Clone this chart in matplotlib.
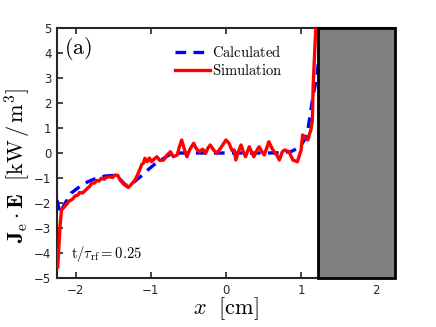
import matplotlib
matplotlib.use("Agg")
import matplotlib.pyplot as plt
from matplotlib.patches import Rectangle

plt.rcParams['mathtext.fontset'] = 'cm'

# Simulation (red)
sim_x = [-2.24, -2.21, -2.19, -2.15, -2.12, -2.09, -2.06, -2.03, -2.01, -1.97, -1.95, -1.91,
         -1.88, -1.84, -1.81, -1.79, -1.75, -1.72, -1.69,
         -1.66, -1.62, -1.60, -1.55, -1.51, -1.48, -1.44, -1.41, -1.36, -1.30, -1.26, -1.21,
         -1.16, -1.12,
         -1.10, -1.08, -1.05, -1.02, -0.99, -0.96, -0.92, -0.88, -0.83, -0.79, -0.74, -0.70,
         -0.65, -0.62, -0.59, -0.55, -0.52, -0.48, -0.43, -0.40, -0.36, -0.31, -0.27, -0.24,
         -0.21, -0.16, -0.12, -0.06, 0.0, 0.04, 0.08, 0.11, 0.13, 0.17, 0.20, 0.23, 0.26,
         0.31, 0.34, 0.37, 0.41, 0.44, 0.48, 0.51, 0.57, 0.61, 0.64, 0.68, 0.71, 0.75, 0.78,
         0.84, 0.89, 0.95, 1.00, 1.02, 1.05, 1.09, 1.11, 1.13, 1.15, 1.16, 1.18, 1.20]
sim_y = [-4.56, -2.96, -2.28, -2.15, -2.05, -1.92, -1.88, -1.80, -1.72, -1.68, -1.58, -1.60,
         -1.52, -1.40, -1.32, -1.21, -1.20, -1.10, -1.12,
         -1.01, -1.05, -0.98, -0.95, -0.98, -0.88, -0.90, -1.08, -1.25, -1.38, -1.25, -1.08,
         -0.75, -0.45,
         -0.41, -0.21, -0.35, -0.20, -0.35, -0.25, -0.15, -0.30, -0.28, -0.10, 0.05, -0.15,
         -0.08, 0.25, 0.52, 0.10, -0.15, 0.15, 0.39, 0.20, 0.05, 0.15, -0.01, 0.20, 0.32,
         0.10, -0.01, 0.25, 0.52, 0.39, 0.10, 0.12, -0.28, 0.10, 0.32, 0.05, -0.15, 0.25,
         0.05, -0.15, 0.10, 0.25, 0.05, -0.08, 0.45, 0.20, 0.05, -0.10, -0.28, 0.05, 0.12,
         0.05, -0.28, -0.35, 0.12, 0.72, 0.62, 0.52, 0.75, 0.92, 1.32, 2.65, 4.0, 5.3]

# Calculated (blue dashed)
calc_x = [-2.25, -2.21, -2.15, -2.06, -1.95, -1.84, -1.72, -1.61, -1.50, -1.45, -1.40,
          -1.34, -1.28, -1.20, -1.14, -1.05, -0.95, -0.85, -0.74, -0.60, -0.40, -0.20,
          0.0, 0.20, 0.40, 0.55, 0.70, 0.86, 0.95, 1.00, 1.05, 1.09, 1.13, 1.16, 1.20, 1.23]
calc_y = [-1.88, -2.40, -2.05, -1.60, -1.35, -1.15, -1.00, -0.92, -0.90, -0.95, -1.08,
          -1.28, -1.30, -1.10, -0.95, -0.70, -0.45, -0.25, -0.05, 0.0, 0.0, 0.0,
          0.0, 0.0, 0.0, 0.0, 0.01, 0.05, 0.18, 0.32, 0.55, 0.92, 1.72, 2.3, 2.9, 3.6]

wall_start = 1.23
x_lim = (-2.25, 2.25)
y_lim = (-5, 5)
x_ticks = [-2, -1, 0, 1, 2]
y_ticks = [-5, -4, -3, -2, -1, 0, 1, 2, 3, 4, 5]

fig = plt.figure(figsize=(4.36, 3.27), dpi=100)
ax = fig.add_axes([0.1307, 0.1498, 0.7753, 0.7646])

ax.plot(calc_x, calc_y, color='#0000ff', lw=2.4, ls=(0, (3.2, 2.2)), label=r'$\mathrm{Calculated}$', zorder=3)
ax.plot(sim_x, sim_y, color='#ff0000', lw=2.4, label=r'$\mathrm{Simulation}$', zorder=4)

ax.add_patch(Rectangle((wall_start, y_lim[0]), x_lim[1] - wall_start, y_lim[1] - y_lim[0],
                       facecolor='#808080', edgecolor='black', lw=2.0, zorder=5, clip_on=False))

ax.set_xlim(*x_lim)
ax.set_ylim(*y_lim)
ax.set_xticks(x_ticks)
ax.set_yticks(y_ticks)
ax.tick_params(direction='in', top=True, right=False, length=4, width=1.2, labelsize=8.5,
               colors='#262626', pad=4)
for s in ax.spines.values():
    s.set_linewidth(1.5)
    s.set_color('#262626')

ax.set_xlabel(r'$x\ \ [\mathrm{cm}]$', fontsize=16, labelpad=-1)
ax.set_ylabel(r'$\mathbf{J}_\mathrm{e}\cdot\mathbf{E}\ \ [\mathrm{kW\,/\,m^3}]$', fontsize=16)
ax.yaxis.set_label_coords(-0.07, 0.45)

ax.text(0.02, 0.97, r'$\mathrm{(a)}$', transform=ax.transAxes, fontsize=16, va='top', ha='left')
ax.text(0.04, 0.055, r'$\mathrm{t}/\tau_\mathrm{rf}=0.25$', transform=ax.transAxes, fontsize=10.5,
        va='bottom', ha='left')

ax.legend(loc='upper left', bbox_to_anchor=(0.32, 0.975), frameon=False, fontsize=10.5,
          handlelength=2.4, handletextpad=0.1, borderpad=0.2, labelspacing=0.2)

fig.savefig('out.png', dpi=100)
